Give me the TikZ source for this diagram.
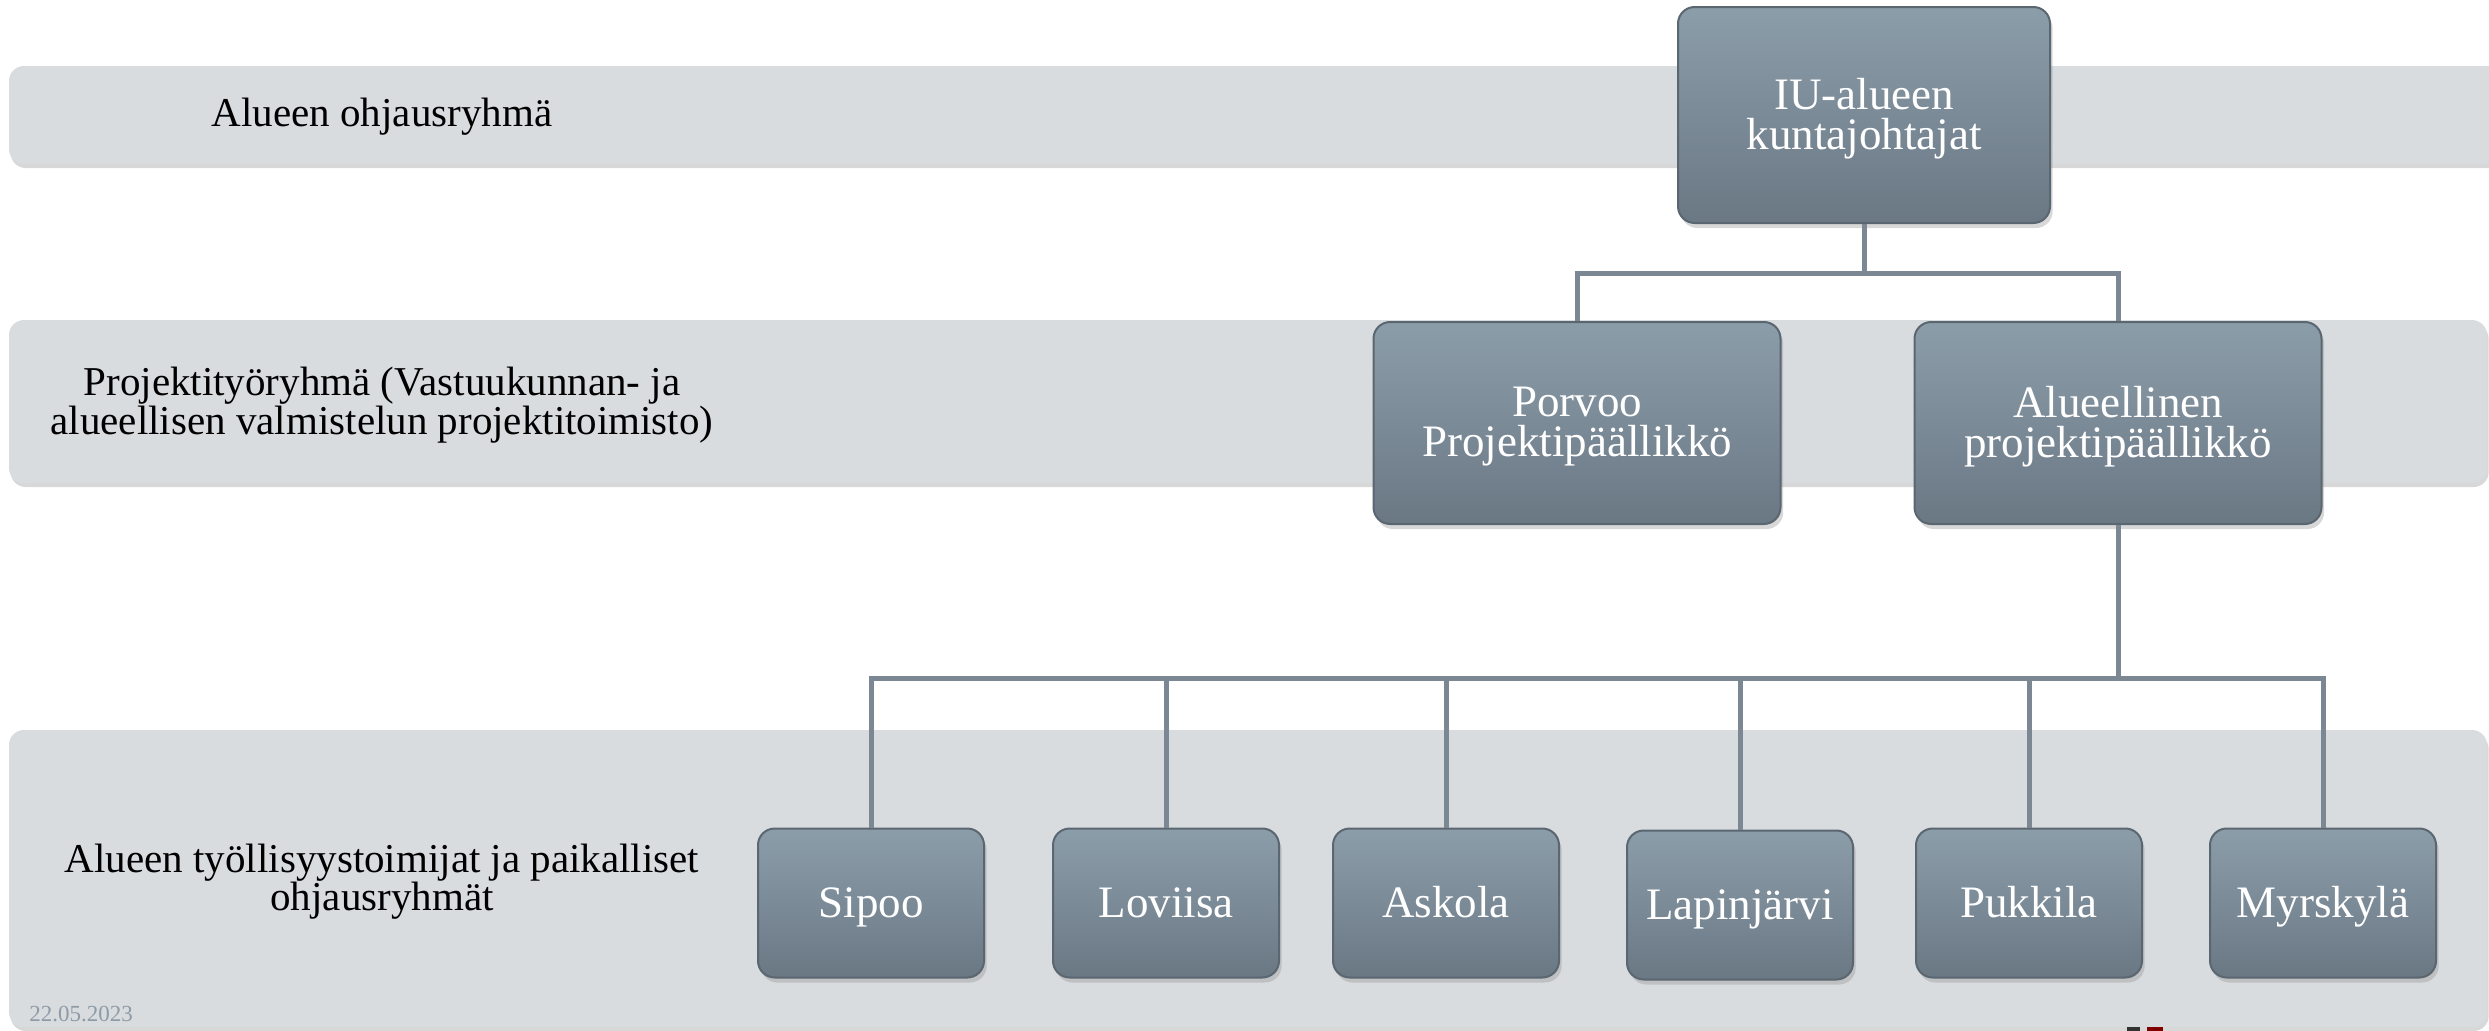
\documentclass[tikz,border=0pt]{standalone}
\usepackage{fontspec}
\setmainfont{Liberation Serif}
\usetikzlibrary{shadows}
\definecolor{band}{HTML}{D9DCDF}
\definecolor{boxtop}{HTML}{8C9DAA}
\definecolor{boxbot}{HTML}{6A7884}
\definecolor{boxedge}{HTML}{5A6670}
\definecolor{conn}{HTML}{7B8893}
\definecolor{datecol}{HTML}{8E9BA7}
\tikzset{
 bandshape/.style={fill=band, rounded corners=4.5pt, drop shadow={shadow xshift=0.5pt, shadow yshift=-1.2pt, opacity=0.3}},
 orgbox/.style={rectangle, rounded corners=5pt, draw=boxedge, line width=0.6pt, top color=boxtop, bottom color=boxbot, text=white, align=center, font=\fontsize{13.5}{12}\selectfont, drop shadow={shadow xshift=0.8pt, shadow yshift=-1.5pt, opacity=0.3}},
 boxtext/.style={text=white, align=center, font=\fontsize{13.5}{12}\selectfont, yshift=-1.1pt},
 bigbox/.style={orgbox, minimum width=111.6pt, minimum height=64.8pt},
 midbox/.style={orgbox, minimum width=122.1pt, minimum height=60.6pt},
 smallbox/.style={orgbox, minimum width=67.8pt, minimum height=44.7pt, text height=10.5pt, text depth=2pt},
 bandlabel/.style={align=center, font=\fontsize{12.3}{11.5}\selectfont, text=black},
 link/.style={draw=conn, line width=1.5pt},
}
\begin{document}
\begin{tikzpicture}[x=0.3pt,y=-0.3pt]
\clip (0,0) rectangle (2489,1030);
\fill[white] (0,0) rectangle (2489,1030);
% bands
\path[bandshape] (9,66) rectangle (2520,164);
\path[bandshape] (9,320) rectangle (2487,483);
\path[bandshape] (9,730) rectangle (2487,1027);
% logo fragments
\fill[black!80] (2127,1027) rectangle (2140,1031);
\fill[red!50!black] (2147,1027) rectangle (2163,1031);
% band labels
\node[bandlabel] (l1) at (382,117) {Alueen ohjausryhmä};
\node[bandlabel] (l2) at (382,405) {Projektityöryhmä (Vastuukunnan- ja\\alueellisen valmistelun projektitoimisto)};
\node[bandlabel] (l3) at (382,882) {Alueen työllisyystoimijat ja paikalliset\\ohjausryhmät};
\node[text=datecol, font=\fontsize{6.9}{7}\selectfont] (date) at (81,1014) {22.05.2023};
% boxes
\node[bigbox, label={[boxtext]center:IU-alueen\\kuntajohtajat}] (iu) at (1864,115) {};
\node[midbox, label={[boxtext]center:Porvoo\\Projektipäällikkö}] (porvoo) at (1577,423) {};
\node[midbox, label={[boxtext]center:Alueellinen\\projektipäällikkö}] (alue) at (2118,423) {};
\node[smallbox] (sipoo) at (871,903) {Sipoo};
\node[smallbox] (loviisa) at (1166,903) {Loviisa};
\node[smallbox] (askola) at (1446,903) {Askola};
\node[smallbox] (lapin) at (1740,905) {Lapinjärvi};
\node[smallbox] (pukkila) at (2029,903) {Pukkila};
\node[smallbox] (myrsky) at (2323,903) {Myrskylä};
% connectors
\coordinate (b1) at (1864,273);
\coordinate (b2) at (2118,678);
\draw[link] (iu.south) -- (b1);
\draw[link] (porvoo.north) -- (porvoo.north |- b1) -- (alue.north |- b1) -- (alue.north);
\draw[link] (alue.south) -- (b2);
\draw[link] (sipoo.north) -- (sipoo.north |- b2) -- (myrsky.north |- b2) -- (myrsky.north);
\draw[link] (loviisa.north) -- (loviisa.north |- b2);
\draw[link] (askola.north) -- (askola.north |- b2);
\draw[link] (lapin.north) -- (lapin.north |- b2);
\draw[link] (pukkila.north) -- (pukkila.north |- b2);
\end{tikzpicture}
\end{document}
